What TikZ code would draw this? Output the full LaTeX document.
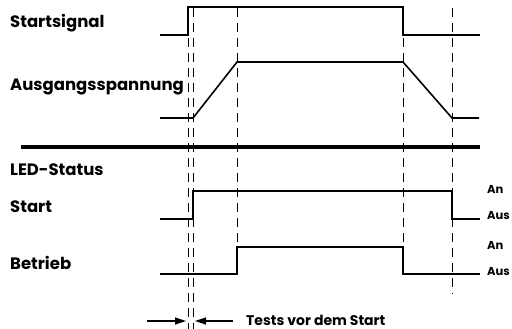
\documentclass[tikz,border=0pt]{standalone}
\usepackage{fontspec}
\setmainfont{Poppins}[UprightFont=* Bold]
\usetikzlibrary{arrows.meta}
\begin{document}
\begin{tikzpicture}[x=1pt,y=-1pt,
  signal/.style={line width=1.6pt},
  guide/.style={line width=0.7pt, dash pattern=on 9pt off 6pt},
  label/.style={anchor=west, inner sep=0pt, font=\fontsize{16.5}{18}\selectfont},
  note/.style={anchor=west, inner sep=0pt, font=\fontsize{14}{16}\selectfont},
  state/.style={anchor=west, inner sep=0pt, font=\fontsize{11.5}{13}\selectfont},
  timing/.style={line width=1.2pt, -{Triangle[length=11pt,width=7pt]}}]
\useasboundingbox (0,0) rectangle (512,329);

% guide lines
\draw[guide] (188,8) -- (188,329);
\draw[guide] (193,8) -- (193,329);
\draw[guide] (237,8) -- (237,274);
\draw[guide] (403,8) -- (403,274);
\draw[guide] (452,8) -- (452,294);

% labels
\node[label] (sig) at (10,23) {Startsignal};
\node[label] (out) at (10,87) {Ausgangsspannung};
\node[label] (led) at (10,170) {LED-Status};
\node[label] (run) at (10,207) {Start};
\node[label] (op) at (10,263) {Betrieb};
\node[state] (on1) at (487,189) {An};
\node[state] (off1) at (487,216) {Aus};
\node[state] (on2) at (487,245) {An};
\node[state] (off2) at (487,272) {Aus};
\node[note] (tests) at (246,320) {Tests vor dem Start};

% waveforms
\draw[signal] (160,35) -- (188,35) -- (188,7) -- (403,7) -- (403,35) -- (480,35);
\draw[signal] (160,118) -- (193,118) -- (237,62) -- (403,62) -- (452,118) -- (479,118);
\draw[line width=4pt] (21,147) -- (480,147);
\draw[signal] (160,219) -- (193,219) -- (193,191) -- (452,191) -- (452,219) -- (480,219);
\draw[signal] (160,274) -- (237,274) -- (237,247) -- (403,247) -- (403,274) -- (480,274);

% test interval
\coordinate (a1) at (147,321);
\coordinate (a2) at (186,321);
\coordinate (b1) at (233,321);
\coordinate (b2) at (195,321);
\draw[timing] (a1) -- (a2);
\draw[timing] (b1) -- (b2);
\end{tikzpicture}
\end{document}
